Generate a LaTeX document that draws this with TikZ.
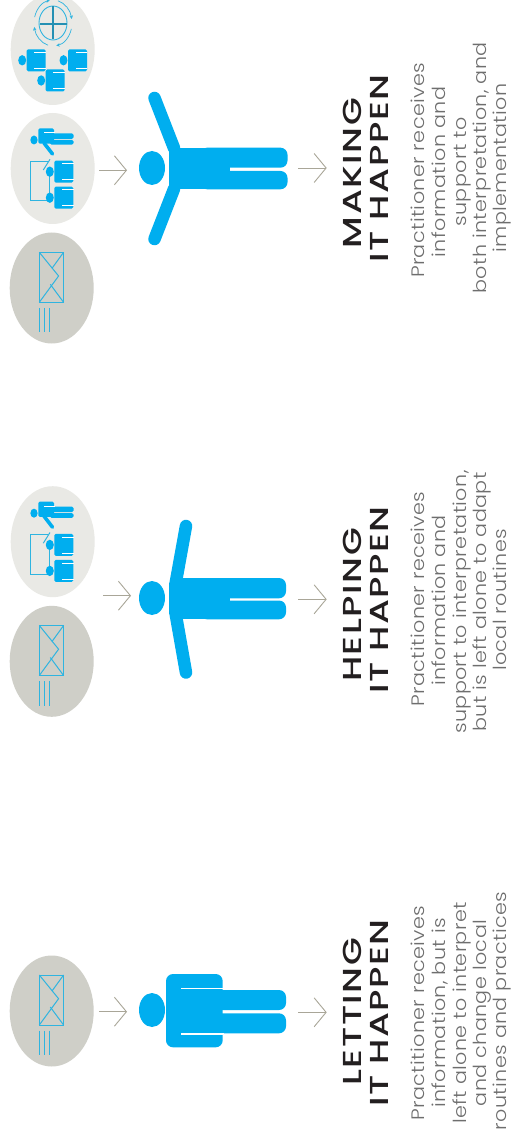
\documentclass[tikz,border=0pt]{standalone}
\usepackage{fontspec}
\usetikzlibrary{arrows.meta,shapes.geometric}
\newfontfamily\headfont[FakeStretch=1.38,LetterSpace=6]{Poppins Medium}
\newfontfamily\bodyfont[FakeStretch=1.15,LetterSpace=2]{Poppins Light}
\definecolor{pblue}{HTML}{00AEEF}
\definecolor{icon}{HTML}{2FB4E0}
\definecolor{darkdisc}{HTML}{CFCFC8}
\definecolor{lightdisc}{HTML}{E9E9E5}
\definecolor{arrowgrey}{HTML}{A9A698}
\definecolor{bodygrey}{HTML}{6E6E6E}
\definecolor{headgrey}{HTML}{231F20}
\tikzset{
  disc/.style={ellipse,inner sep=0,minimum width=84pt,minimum height=111pt},
  darkone/.style={disc,fill=darkdisc},
  lightone/.style={disc,fill=lightdisc},
  flow/.style={draw=arrowgrey,line width=0.9pt,-{Straight Barb[length=12pt,width=29pt,line width=0.9pt]}},
  heading/.style={rotate=90,anchor=base,inner sep=0,text=headgrey,font=\headfont\fontsize{26}{28}\selectfont},
  bodytext/.style={rotate=90,anchor=base,inner sep=0,text=bodygrey,font=\bodyfont\fontsize{18}{20}\selectfont},
  limb/.style={draw=pblue,line cap=round,line width=12.5pt},
  iconline/.style={draw=icon,line width=1pt},
  pics/envelope/.style={code={
    \draw[iconline] (0,0) rectangle (24.3,50);
    \draw[iconline] (0,0) -- (19.3,23.7) -- (0,50);
    \draw[iconline] (24.3,0) -- (12.7,16);
    \draw[iconline] (24.3,50) -- (11,32);
    \draw[iconline] (0,55.5) -- (0,80) (5,55.5) -- (5,80) (10,55.5) -- (10,80);
  }},
  pics/miniperson/.style={code={
    \fill[pblue] (-4.5,11) ellipse (4 and 5.2);
    \fill[pblue,rounded corners=1.5pt] (0,0) rectangle (19,22);
    \fill[white] (7.5,2.6) rectangle (19.2,3.4);
    \fill[white] (7.5,18.8) rectangle (19.2,19.6);
  }},
  pics/supporter/.style={code={
    \fill[pblue] (-4.3,11.7) ellipse (3.6 and 4.5);
    \fill[pblue,rounded corners=1.5pt] (0,0) rectangle (15.7,15.3);
    \fill[pblue,rounded corners=1.5pt] (11.7,5.2) rectangle (35.2,10.7);
    \fill[pblue,rounded corners=1.5pt] (11.7,11.5) rectangle (35.2,16.3);
    \draw[pblue,line width=3.6pt,line cap=round] (5.7,14.7) -- (14.2,25.7);
    \fill[white] (5.7,4.1) rectangle (16.7,4.9);
    \draw[iconline] (10,33.4) -- (-7.6,33.4) -- (-7.6,72.7) -- (10,72.7);
    \draw[iconline] (11,42.7) -- (11,68.7);
    \draw[iconline] (5,41.7) -- (11.7,31);
    \pic at (16,32.4) {miniperson};
    \pic at (16,58.4) {miniperson};
  }},
}
\begin{document}
\begin{tikzpicture}[x=1pt,y=-1pt]
\useasboundingbox (0,0) rectangle (511,1139);
\fill[white] (0,0) rectangle (511,1139);

%% ---------- MAKING ----------
\node[lightone] (m3) at (52.7,49.5) {};
\node[lightone] (m2) at (52.7,168.5) {};
\node[darkone]  (m1) at (51.7,288) {};
\pic at (39.3,252.3) {envelope};
\pic at (38.3,128.3) {supporter};
% team icon
\pic at (26.7,49.3) {miniperson};
\pic at (68,49.3) {miniperson};
\pic at (45.7,69.5) {miniperson};
% cycle icon
\draw[icon,line width=0.9pt] (53,23) ellipse (14 and 17);
\draw[icon!80!black,line width=1.5pt] (53,6.5) -- (53,39.5) (39.5,24) -- (66.5,24);
\foreach \s in {15,105,195,285}{
  \draw[icon,line width=0.7pt,-{Stealth[length=3.5pt,width=3.5pt]}]
    ({53+19*cos(\s)},{23+23*sin(\s)}) arc[start angle=\s,delta angle=65,x radius=19,y radius=23];
}
\coordinate (ma1) at (99,170.3);
\coordinate (mb1) at (127,170.3);
\draw[flow] (ma1) -- (mb1);
% person
\fill[pblue] (152,168) ellipse (13 and 17);
\draw[limb] (174,148) -- (154.5,98);
\draw[limb] (174,189) -- (154.5,239);
\fill[pblue] (168.5,150.5) rectangle (180,186.5);
\fill[pblue] (178,147.7) rectangle (230,189.3);
\fill[pblue,rounded corners=7pt] (200,147.7) rectangle (287.5,167.7);
\fill[pblue,rounded corners=7pt] (200,171) rectangle (287.5,189.3);
\coordinate (ma2) at (298.3,168);
\coordinate (mb2) at (326.7,168);
\draw[flow] (ma2) -- (mb2);
\node[heading] (mh1) at (361.7,173) {MAKING};
\node[heading] (mh2) at (388.3,168.5) {IT HAPPEN};
\node[bodytext] (mt1) at (424.5,170.5) {Practitioner receives};
\node[bodytext] (mt2) at (445,172) {information and};
\node[bodytext] (mt3) at (466,172) {support to};
\node[bodytext] (mt4) at (486.5,168) {both interpretation, and};
\node[bodytext] (mt5) at (506.5,168) {implementation};

%% ---------- HELPING ----------
\node[lightone] (h2) at (52.7,541.7) {};
\node[darkone]  (h1) at (51.7,661.3) {};
\pic at (39.3,625.5) {envelope};
\pic at (38.3,501.5) {supporter};
\coordinate (ha1) at (103.3,595.7);
\coordinate (hb1) at (131,595.7);
\draw[flow] (ha1) -- (hb1);
\fill[pblue] (152,598) ellipse (13 and 17);
\draw[limb] (175.5,584) -- (186,526);
\draw[limb] (175.5,613) -- (186,672.5);
\fill[pblue] (169,583) rectangle (180,614);
\fill[pblue] (178,578) rectangle (230,619.3);
\fill[pblue,rounded corners=7pt] (200,578) rectangle (286,598.3);
\fill[pblue,rounded corners=7pt] (200,600.5) rectangle (286,619.3);
\coordinate (ha2) at (298.3,599.3);
\coordinate (hb2) at (326.7,599.3);
\draw[flow] (ha2) -- (hb2);
\node[heading] (hh1) at (361.7,605) {HELPING};
\node[heading] (hh2) at (388.3,600) {IT HAPPEN};
\node[bodytext] (ht1) at (424.5,599) {Practitioner receives};
\node[bodytext] (ht2) at (445,600.5) {information and};
\node[bodytext] (ht3) at (466,602) {support to interpretation,};
\node[bodytext] (ht4) at (486.5,602) {but is left alone to adapt};
\node[bodytext] (ht5) at (506.5,600) {local routines};

%% ---------- LETTING ----------
\node[darkone] (l1) at (51.7,1011) {};
\pic at (39.3,975) {envelope};
\coordinate (la1) at (99,1011.7);
\coordinate (lb1) at (127,1011.7);
\draw[flow] (la1) -- (lb1);
\fill[pblue] (152,1010) ellipse (13 and 17);
\fill[pblue,rounded corners=7pt] (166,974) rectangle (222.7,1047.3);
\fill[pblue,rounded corners=7pt] (200,990) rectangle (286,1010);
\fill[pblue,rounded corners=7pt] (200,1013.3) rectangle (286,1033.3);
\fill[white] (181,987.7) rectangle (224,989.3);
\fill[white] (181,1033.3) rectangle (224,1034.9);
\coordinate (la2) at (298.3,1012.3);
\coordinate (lb2) at (326.7,1012.3);
\draw[flow] (la2) -- (lb2);
\node[heading] (lh1) at (361.7,1011.7) {LETTING};
\node[heading] (lh2) at (388.3,1013) {IT HAPPEN};
\node[bodytext] (lt1) at (424.5,1013) {Practitioner receives};
\node[bodytext] (lt2) at (445,1013) {information, but is};
\node[bodytext] (lt3) at (466,1013) {left alone to interpret};
\node[bodytext] (lt4) at (486.5,1013) {and change local};
\node[bodytext] (lt5) at (506.5,1011) {routines and practices};
\end{tikzpicture}
\end{document}
